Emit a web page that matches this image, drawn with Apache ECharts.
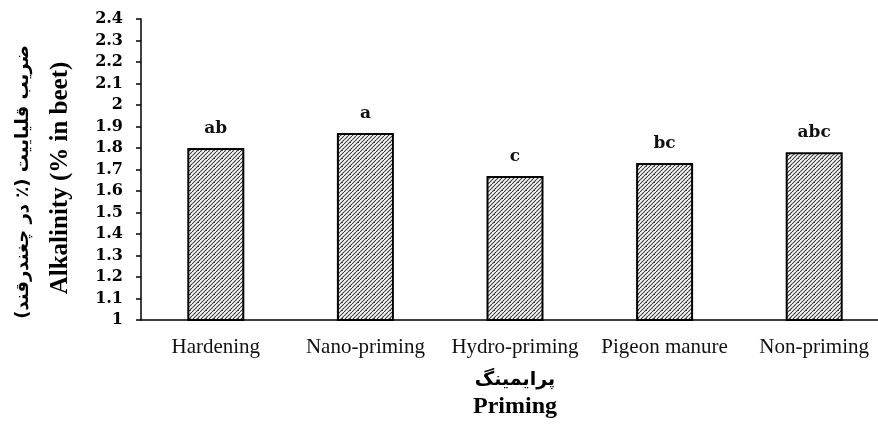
<!DOCTYPE html>
<html>
<head>
<meta charset="utf-8">
<script src="https://cdn.jsdelivr.net/npm/echarts@6/dist/echarts.min.js"></script>
<style>html,body{margin:0;padding:0;background:#fff;overflow:hidden}#c{width:889px;height:434px}</style>
</head>
<body>
<div id="c"></div>
<script>
const categories = ['Hardening', 'Nano-priming', 'Hydro-priming', 'Pigeon manure', 'Non-priming'];
const values = [1.80, 1.87, 1.67, 1.73, 1.78];
const letters = ['ab', 'a', 'c', 'bc', 'abc'];
const yTicks = { min: 1, max: 2.4, interval: 0.1 };

// hatch pattern
const pc = document.createElement('canvas');
pc.width = 8; pc.height = 8;
const g = pc.getContext('2d');
g.fillStyle = '#ffffff';
g.fillRect(0, 0, 8, 8);
g.strokeStyle = '#3a3a3a';
g.lineWidth = 1.1;
for (let k = -8; k <= 16; k += 4) {
  g.beginPath();
  g.moveTo(k, 8);
  g.lineTo(k + 8, 0);
  g.stroke();
}
g.fillStyle = '#555';
g.fillRect(6, 6, 1, 1);

const serif = '"Liberation Serif", "Times New Roman", serif';
const wideSerif = '"DejaVu Serif", serif';
const chart = echarts.init(document.getElementById('c'), null, { renderer: 'canvas' });
chart.setOption({
  animation: false,
  backgroundColor: '#fff',
  grid: { left: 141, top: 19, right: 0, bottom: 114 },
  xAxis: {
    type: 'category',
    data: categories,
    axisLine: { lineStyle: { color: '#000', width: 1.5 } },
    axisTick: { alignWithLabel: true, length: 4, lineStyle: { color: '#000', width: 1.5 } },
    axisLabel: { color: '#111', fontFamily: serif, fontSize: 21, margin: 17, interval: 0 }
  },
  yAxis: {
    type: 'value',
    min: yTicks.min, max: yTicks.max, interval: yTicks.interval,
    axisLine: { show: true, lineStyle: { color: '#000', width: 1.5 } },
    axisTick: { show: true, length: 5, lineStyle: { color: '#000', width: 1.5 } },
    splitLine: { show: false },
    axisLabel: { color: '#000', fontFamily: wideSerif, fontWeight: 'bold', fontSize: 16, margin: 18 }
  },
  series: [{
    type: 'bar',
    data: values,
    barWidth: 57,
    itemStyle: { color: { image: pc, repeat: 'repeat' }, borderColor: '#000', borderWidth: 2 },
    label: {
      show: true, position: 'top', distance: 11,
      formatter: p => letters[p.dataIndex],
      fontFamily: wideSerif, fontWeight: 'bold', fontSize: 17, color: '#111'
    }
  }],
  graphic: [
    { type: 'text', x: 61, y: 178, rotation: Math.PI / 2,
      style: { text: 'Alkalinity (% in beet)', font: 'bold 25px ' + serif, fill: '#000', align: 'center', verticalAlign: 'middle' } },
    { type: 'text', x: 23, y: 182, rotation: Math.PI / 2,
      style: { text: 'ضریب قلیاییت (٪ در چغندرقند)', font: 'bold 18px "DejaVu Sans"', fill: '#000', align: 'center', verticalAlign: 'middle' } },
    { type: 'text', x: 515, y: 380,
      style: { text: 'پرایمینگ', font: 'bold 19px "DejaVu Sans"', fill: '#000', align: 'center', verticalAlign: 'middle' } },
    { type: 'text', x: 515, y: 407,
      style: { text: 'Priming', font: 'bold 24px ' + serif, fill: '#000', align: 'center', verticalAlign: 'middle' } }
  ]
});
</script>
</body>
</html>
